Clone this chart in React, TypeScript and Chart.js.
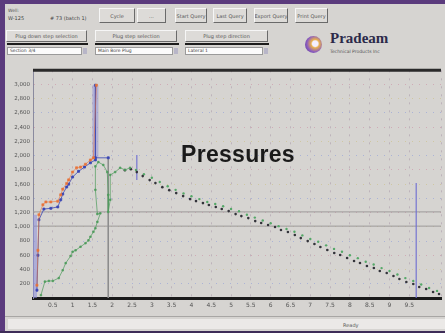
import React, { useEffect, useRef } from "react";
import { Chart, registerables } from "chart.js";

Chart.register(...registerables);

// ---- tick labels ----
const xTickLabels = ["0.5", "1", "1.5", "2", "2.5", "3", "3.5", "4", "4.5", "5", "5.5", "6", "6.5", "7", "7.5", "8", "8.5", "9", "9.5", "10"];
const yTickLabels = ["200", "400", "600", "800", "1,000", "1,200", "1,400", "1,600", "1,800", "2,000", "2,200", "2,400", "2,600", "2,800", "3,000"];
const X_MAX = 20.6;
const Y_MAX = 3200;
const Y_STEP = 200;

// ---- series (x in ticks, y in psi) ----
const casingPressure: [number, number][] = [
  [0.2, 180], [0.25, 670], [0.3, 1170], [0.5, 1310], [0.65, 1350], [0.9, 1350], [1.25, 1360], [1.4, 1450],
  [1.5, 1530], [1.7, 1610], [1.8, 1660], [2.0, 1770], [2.2, 1830], [2.4, 1840], [2.65, 1880], [2.9, 1940],
  [3.05, 1970], [3.2, 2990],
];
const tubingPressure: [number, number][] = [
  [0.2, 110], [0.25, 600], [0.3, 1100], [0.55, 1250], [0.9, 1260], [1.25, 1280], [1.4, 1380], [1.5, 1460],
  [1.7, 1560], [1.8, 1600], [2.0, 1700], [2.3, 1780], [2.6, 1840], [2.9, 1900], [3.15, 1940], [3.15, 2990],
  [3.15, 1970], [3.8, 1970],
];
const linePressure: [number, number][] = [
  [0.4, 40], [0.6, 230], [0.8, 240], [1.0, 240], [1.3, 280], [1.5, 390], [1.65, 490], [1.9, 590], [2.0, 650],
  [2.15, 670], [2.4, 720], [2.65, 770], [2.8, 810], [2.9, 860], [3.05, 930], [3.15, 980], [3.25, 1070],
  [3.4, 1190], [3.25, 1180], [3.15, 1520], [3.15, 1850], [3.3, 1910], [3.55, 1870], [3.75, 1770], [3.8, 1450],
  [3.8, 1210], [3.9, 1380], [3.9, 1730], [4.15, 1770], [4.4, 1830], [4.65, 1800], [4.9, 1830],
];
const lineDecline: [number, number][] = [
  [5.2, 1800], [5.6, 1740], [6.0, 1690], [6.4, 1630], [6.8, 1570], [7.2, 1520], [7.6, 1470], [8.0, 1430],
  [8.4, 1390], [8.8, 1350], [9.2, 1320], [9.6, 1290], [10.0, 1250], [10.4, 1220], [10.8, 1170], [11.2, 1130],
  [11.6, 1090], [12.0, 1050], [12.4, 1010], [12.8, 970], [13.2, 930], [13.6, 880], [14.0, 830], [14.4, 790],
  [14.8, 740], [15.2, 690], [15.6, 650], [16.0, 600], [16.4, 560], [16.8, 510], [17.2, 470], [17.6, 420],
  [18.0, 380], [18.4, 330], [18.8, 280], [19.2, 240], [19.6, 190], [20.0, 140], [20.4, 100],
];
const bottomholeDecline: [number, number][] = [
  [4.64, 1797], [4.94, 1811], [5.24, 1769], [5.54, 1713], [5.89, 1657], [6.18, 1615], [6.53, 1558], [6.88, 1516],
  [7.23, 1474], [7.58, 1432], [7.93, 1390], [8.23, 1362], [8.58, 1334], [8.88, 1306], [9.23, 1278], [9.53, 1250],
  [9.88, 1221], [10.23, 1179], [10.52, 1151], [10.87, 1123], [11.22, 1081], [11.52, 1053], [11.87, 1025],
  [12.22, 997], [12.52, 955], [12.87, 927], [13.22, 885], [13.52, 842], [13.87, 800], [14.21, 758], [14.51, 716],
  [14.86, 674], [15.21, 632], [15.51, 604], [15.86, 562], [16.21, 519], [16.51, 491], [16.86, 449], [17.21, 421],
  [17.51, 379], [17.86, 351], [18.2, 309], [18.5, 267], [18.85, 225], [19.2, 197], [19.5, 154], [19.85, 126],
  [20.2, 84], [20.5, 56],
];
// markers / reference lines
const spikeBand: [number, number][] = [[3.15, 1970], [3.15, 2990]];
const startBand: [number, number][] = [[0.1, 0], [0.1, 1170]];
const shutInMarker: [number, number][] = [[3.8, 1970], [3.8, 0]];
const restartMarker: [number, number][] = [[5.24, 1660], [5.24, 2010]];
const endMarker: [number, number][] = [[19.35, 0], [19.35, 1615]];
const upperLimit: [number, number][] = [[0, 1210], [X_MAX, 1210]];
const lowerLimit: [number, number][] = [[0, 1010], [X_MAX, 1010]];

const pts = (a: [number, number][]) => a.map(([x, y]) => ({ x, y }));

const BG = "#d6d4d1";

function Btn({ l, t, w, h, text }: { l: number; t: number; w: number; h: number; text: string }) {
  return (
    <div
      style={{
        position: "absolute", left: l, top: t, width: w, height: h, boxSizing: "border-box",
        background: "#dddbd8", borderTop: "1px solid #f6f6f6", borderLeft: "1px solid #f6f6f6",
        borderRight: "1px solid #6a6a6a", borderBottom: "1px solid #6a6a6a",
        font: '5px "DejaVu Sans"', color: "#555", display: "flex", alignItems: "center", justifyContent: "center",
        whiteSpace: "nowrap", overflow: "hidden",
      }}
    >
      {text}
    </div>
  );
}

function Combo({ l, w, text }: { l: number; w: number; text: string }) {
  return (
    <>
      <div style={{ position: "absolute", left: l, top: 43, width: w + 6, height: 2, background: "#1c1c1c" }} />
      <div
        style={{
          position: "absolute", left: l, top: 47, width: w, height: 8, boxSizing: "border-box", background: "#fbfbfb",
          border: "1px solid #9a9a9a", font: '4.5px "DejaVu Sans"', color: "#444", paddingLeft: 2, lineHeight: "6px",
          whiteSpace: "nowrap", overflow: "hidden",
        }}
      >
        {text}
      </div>
      <div style={{ position: "absolute", left: l + w + 1, top: 48, width: 4, height: 6, background: "#b8b6c8" }} />
    </>
  );
}

export default function App() {
  const ref = useRef<HTMLCanvasElement>(null);

  useEffect(() => {
    document.body.style.margin = "0";
    const pastel = ["rgba(205,160,175,0.8)", "rgba(160,170,215,0.8)", "rgba(205,195,150,0.8)"];
    const framePlugin = {
      id: "frame",
      afterDraw(chart: any) {
        const { ctx, chartArea } = chart;
        ctx.save();
        ctx.strokeStyle = "#2a2a2a";
        ctx.lineWidth = 3;
        ctx.beginPath();
        ctx.moveTo(chartArea.left, chartArea.top);
        ctx.lineTo(chartArea.right, chartArea.top);
        ctx.stroke();
        ctx.restore();
      },
    };
    const line = (data: [number, number][], color: string, width: number) => ({
      data: pts(data), showLine: true, borderColor: color, backgroundColor: color, borderWidth: width,
      pointRadius: 0, pointHoverRadius: 0,
    });
    const chart = new Chart(ref.current!, {
      type: "scatter",
      data: {
        datasets: [
          { ...line(casingPressure, "rgba(232,116,58,0.75)", 0.8), pointRadius: 1.5, pointStyle: "rect", backgroundColor: "#e8743a" },
          { ...line(tubingPressure, "rgba(58,70,180,0.8)", 1), pointRadius: 1.4, pointStyle: "rect", backgroundColor: "#3a46b4" },
          { ...line(linePressure, "rgba(79,156,94,0.8)", 0.9), pointRadius: 1.1, pointStyle: "rect", backgroundColor: "#4f9c5e" },
          { data: pts(bottomholeDecline), showLine: false, pointRadius: 1.3, borderWidth: 0, backgroundColor: "#33333a" },
          { data: pts(lineDecline), showLine: false, pointRadius: 1.2, borderWidth: 0, backgroundColor: "#55a868" },
          line(spikeBand, "rgba(140,140,220,0.5)", 6),
          line(startBand, "rgba(140,140,220,0.55)", 4),
          line(restartMarker, "rgba(110,110,210,0.75)", 1.5),
          line(endMarker, "rgba(110,110,210,0.75)", 1.5),
          line(shutInMarker, "#8c8c8c", 1),
          line(upperLimit, "#9c9a9a", 1),
          line(lowerLimit, "#9c9a9a", 1),
        ],
      },
      options: {
        animation: false,
        responsive: false,
        maintainAspectRatio: false,
        layout: { padding: { top: 6, left: 0, right: 0, bottom: 0 } },
        plugins: { legend: { display: false }, tooltip: { enabled: false }, title: { display: false } },
        scales: {
          x: {
            type: "linear",
            min: 0,
            max: X_MAX,
            afterFit: (s: any) => { s.height = 18; },
            ticks: {
              stepSize: 1, autoSkip: false, maxRotation: 0, padding: 4, color: "#555",
              font: { size: 6, family: "DejaVu Sans" },
              callback: (v: any) => {
                const i = Math.round(v);
                if (Math.abs(v - i) > 1e-6 || i < 1 || i > xTickLabels.length) return "";
                return xTickLabels[i - 1];
              },
            },
            grid: { color: "rgba(160,140,160,0.45)", drawTicks: false, lineWidth: 1 },
            border: { color: "#1a1a1a", width: 3, dash: [2, 6] },
          },
          y: {
            min: 0,
            max: Y_MAX,
            afterFit: (s: any) => { s.width = 28; },
            ticks: {
              stepSize: Y_STEP, padding: 3, color: "#555", font: { size: 5.5, family: "DejaVu Sans" },
              callback: (v: any) => {
                const i = Math.round(v / Y_STEP);
                if (i < 1 || i > yTickLabels.length) return "";
                return yTickLabels[i - 1];
              },
            },
            grid: { color: (c: any) => pastel[c.index % 3], drawTicks: false, lineWidth: 1 },
            border: { color: "#8a8a9e", width: 1, dash: [1, 6] },
          },
        },
      },
      plugins: [framePlugin],
    } as any);
    return () => chart.destroy();
  }, []);

  return (
    <div style={{ position: "fixed", left: 0, top: 0, width: 445, height: 333, overflow: "hidden", background: BG }}>
      {/* purple window frame */}
      <div style={{ position: "absolute", left: 0, top: 0, width: 445, height: 4, background: "#5b3b7d" }} />
      <div style={{ position: "absolute", left: 0, top: 0, width: 5, height: 333, background: "#5b3b7d" }} />
      <div style={{ position: "absolute", left: 0, top: 331, width: 445, height: 2, background: "#3e2c58" }} />

      {/* toolbar */}
      <div style={{ position: "absolute", left: 8, top: 8, font: '4.5px "DejaVu Sans"', color: "#555" }}>Well:</div>
      <div style={{ position: "absolute", left: 8, top: 15, font: '5px "DejaVu Sans"', color: "#444" }}>W-125</div>
      <div style={{ position: "absolute", left: 50, top: 15, font: '5px "DejaVu Sans"', color: "#444" }}># 73 (batch 1)</div>
      <Btn l={99} t={8} w={36} h={15} text="Cycle" />
      <Btn l={137} t={8} w={29} h={15} text="..." />
      <Btn l={175} t={8} w={32} h={15} text="Start Query" />
      <Btn l={213} t={8} w={34} h={15} text="Last Query" />
      <Btn l={254} t={8} w={34} h={15} text="Export Query" />
      <Btn l={295} t={8} w={33} h={15} text="Print Query" />

      <Btn l={6} t={30} w={81} h={12} text="Plug down step selection" />
      <Btn l={95} t={30} w={82} h={12} text="Plug step selection" />
      <Btn l={185} t={30} w={83} h={12} text="Plug step direction" />
      <Combo l={7} w={75} text="Section 3/4" />
      <Combo l={95} w={78} text="Main Bore Plug" />
      <Combo l={185} w={78} text="Lateral 1" />

      {/* logo */}
      <div
        style={{
          position: "absolute", left: 305, top: 36, width: 17, height: 17, borderRadius: "50%",
          background: "radial-gradient(circle at 60% 45%, #f4f0ff 0 20%, #e8b050 30%, #8a5cc0 60%, #5a3a8a 100%)",
        }}
      />
      <div style={{ position: "absolute", left: 330, top: 30, font: 'bold 15px "Liberation Serif"', color: "#2c2a4a" }}>Pradeam</div>
      <div style={{ position: "absolute", left: 330, top: 49, font: '4.5px "DejaVu Sans"', color: "#555" }}>Technical Products Inc</div>

      {/* chart */}
      <canvas ref={ref} width={440} height={252} style={{ position: "absolute", left: 5, top: 64, width: 440, height: 252 }} />
      <div
        style={{
          position: "absolute", left: 181, top: 143, font: 'bold 23px "Liberation Sans"', lineHeight: "23px",
          color: "#1a1a1a", whiteSpace: "nowrap", letterSpacing: "0.3px",
        }}
      >
        Pressures
      </div>

      {/* status bar */}
      <div style={{ position: "absolute", left: 5, top: 316, width: 440, height: 1, background: "#a8a6a4" }} />
      <div style={{ position: "absolute", left: 8, top: 319, width: 437, height: 10, background: "#ebe9e7" }} />
      <div style={{ position: "absolute", left: 343, top: 322, font: '5px "DejaVu Sans"', color: "#555" }}>Ready</div>
    </div>
  );
}
